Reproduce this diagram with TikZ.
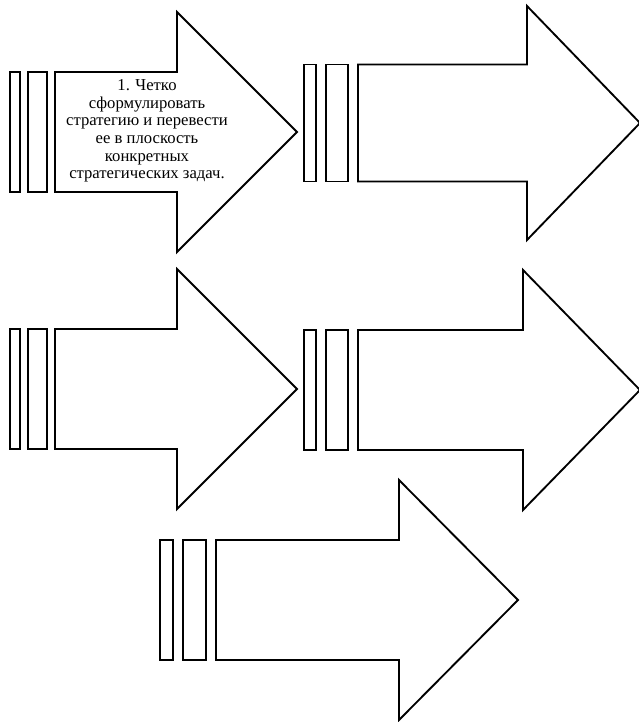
\documentclass[tikz,border=0pt]{standalone}
\usepackage{fontspec}
\setmainfont{Liberation Serif}
\usetikzlibrary{positioning}

\begin{document}
\begin{tikzpicture}[
  x=0.75pt, y=-0.75pt,
  line join=miter,
  bar/.style={draw, line width=1.4pt, fill=white},
  body/.style={draw, line width=1.4pt, fill=white},
  lbl/.style={align=center, inner sep=0pt, font=\fontsize{12.5}{13.2}\selectfont},
]
\useasboundingbox (0,0) rectangle (639,722);
% striped arrow: body left, shaft end, tip, centre y, shaft half, head half, bar 1, bar 2, gap
\def\sarr#1#2#3#4#5#6#7#8#9{%
  \draw[bar] (#1-2*#9-#8-#7,#4-#5) rectangle (#1-2*#9-#8,#4+#5);
  \draw[bar] (#1-#9-#8,#4-#5) rectangle (#1-#9,#4+#5);
  \draw[body] (#1,#4-#5) -- (#2,#4-#5) -- (#2,#4-#6) -- (#3,#4)
    -- (#2,#4+#6) -- (#2,#4+#5) -- (#1,#4+#5) -- cycle;}

% ---- top row -----------------------------------------------------------------
\sarr{55}{177}{297}{132}{60}{120}{10}{19}{8}
\sarr{358}{527}{640}{123}{58.5}{117}{12}{22}{10}
\node[lbl] (t1) at (147,131) {1. Четко\\сформулировать\\стратегию и перевести\\ее в плоскость\\конкретных\\стратегических задач.};

% ---- middle row --------------------------------------------------------------
\sarr{55}{177}{297}{389}{60}{120}{10}{19}{8}
\sarr{358}{523}{640}{390}{60}{120}{12}{22}{10}

% ---- bottom ------------------------------------------------------------------
\sarr{216}{399}{518}{600}{60}{120}{13}{23}{10}
\end{tikzpicture}
\end{document}
